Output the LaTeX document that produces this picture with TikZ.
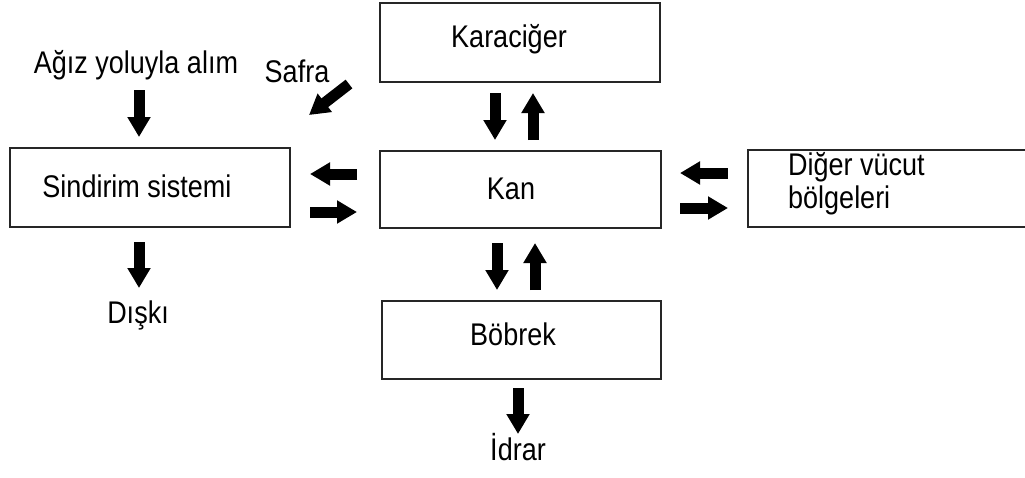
\documentclass[tikz,border=0pt]{standalone}
\usepackage{fontspec}
\setmainfont{Liberation Sans}
\usetikzlibrary{arrows.meta}
\newcommand\tallt[1]{\scalebox{1}[1.16]{#1}}
\begin{document}
\begin{tikzpicture}[x=1pt,y=-1pt,
  box/.style={draw=black!85,line width=2pt,inner sep=0pt},
  boxline/.style={draw=black!85,line width=2pt},
  lbl/.style={font=\fontsize{27}{32}\selectfont,inner sep=0pt,anchor=base},
  fat/.style={line width=11pt,-{Triangle[width=22pt,length=20pt]}}]
\useasboundingbox (0,0) rectangle (1025,477);
% boxes
\node[box,minimum width=280pt,minimum height=79pt] (kar) at (520,42.5) {};
\node[box,minimum width=281pt,minimum height=77pt] (kan) at (520.5,189.5) {};
\node[box,minimum width=280pt,minimum height=79pt] (sin) at (150,187.5) {};
\node[box,minimum width=279pt,minimum height=78pt] (bob) at (521.5,340) {};
% box running off the right edge (no right side visible)
\node[inner sep=0pt,minimum width=290pt,minimum height=77pt] (dig) at (893,188.5) {};
\draw[boxline] (dig.north east) -- (dig.north west) -- (dig.south west) -- (dig.south east);
% texts
\node[lbl] (tagiz) at (136,73) {\tallt{Ağız yoluyla alım}};
\node[lbl] (tsafra) at (297,82) {\tallt{Safra}};
\node[lbl] (tkar) at (509,47) {\tallt{Karaciğer}};
\node[lbl] (tsin) at (137,197) {\tallt{Sindirim sistemi}};
\node[lbl] (tkan) at (511,199) {\tallt{Kan}};
\node[lbl,anchor=base west] (tdig1) at (788,175) {\tallt{Diğer vücut}};
\node[lbl,anchor=base west] (tdig2) at (788,208) {\tallt{bölgeleri}};
\node[lbl] (tdis) at (138,323) {\tallt{Dışkı}};
\node[lbl] (tbob) at (513,345) {\tallt{Böbrek}};
\node[lbl] (tidr) at (518,460) {\tallt{İdrar}};
% arrow end points
\coordinate (a1s) at (139,90);  \coordinate (a1e) at (139,137);
\coordinate (a2s) at (349,84);  \coordinate (a2e) at (309,115);
\coordinate (a3s) at (495,93);  \coordinate (a3e) at (495,140);
\coordinate (a4s) at (533,140); \coordinate (a4e) at (533,93);
\coordinate (a5s) at (357,174); \coordinate (a5e) at (310,174);
\coordinate (a6s) at (310,212); \coordinate (a6e) at (357,212);
\coordinate (a7s) at (728,173); \coordinate (a7e) at (680,173);
\coordinate (a8s) at (680,208); \coordinate (a8e) at (728,208);
\coordinate (a9s) at (497,243); \coordinate (a9e) at (497,290);
\coordinate (a10s) at (535,290); \coordinate (a10e) at (535,243);
\coordinate (a11s) at (139,242); \coordinate (a11e) at (139,288);
\coordinate (a12s) at (518,388); \coordinate (a12e) at (518,434);
\foreach \i in {1,...,12} {\draw[fat] (a\i s) -- (a\i e);}
\end{tikzpicture}
\end{document}
